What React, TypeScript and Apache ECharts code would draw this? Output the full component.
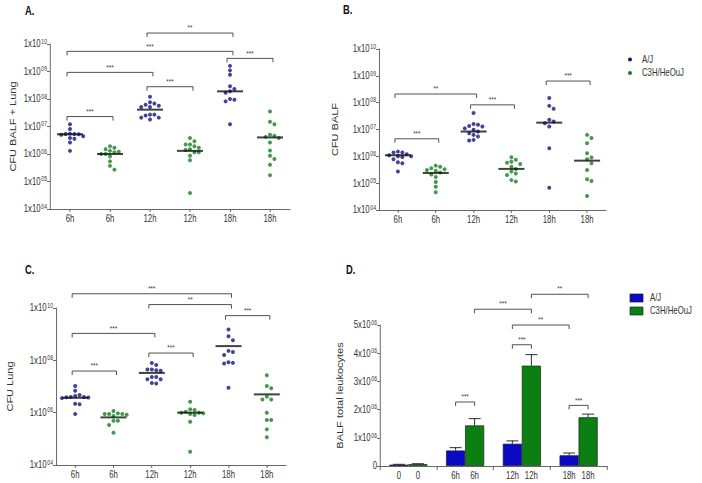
import React, { useEffect, useRef } from 'react';
import * as echarts from 'echarts';

const FONT = "'Liberation Sans', Arial, sans-serif";
const BLUE_DOT = '#141480';
const GREEN_DOT = '#17801f';
const BLUE_BAR = '#0a0ac4';
const GREEN_BAR = '#0b7f12';
const AXIS = '#555';
const TEXT = '#333';

// horizontal squeeze of the whole figure (the reference text is condensed)
const S = 0.78;
const X = (px: number) => px / S;

// ---------- shared categories ----------
const timeLabels = ['6h', '6h', '12h', '12h', '18h', '18h'];
const strainNames = ['A/J', 'C3H/HeOuJ'];

// ---------- Panel A: CFU BALF + Lung (per time: 6h, 12h, 18h) ----------
const totalAJ = [
  [1.2e7, 8.1e6, 5.5e6, 5.3e6, 5.2e6, 5.0e6, 5.3e6, 4.4e6, 3.8e6, 3.6e6, 2.6e6, 1.3e6],
  [1.2e8, 7.6e7, 6.8e7, 6.2e7, 5.7e7, 5.1e7, 5.1e7, 2.7e7, 2.5e7, 2.7e7, 2.1e7, 2.1e7, 1.8e7],
  [1.6e9, 1.1e9, 7.6e8, 2.9e8, 2.3e8, 1.9e8, 1.7e8, 1.0e8, 9.4e7, 8.2e7, 1.2e7],
];
const totalC3H = [
  [1.9e6, 1.7e6, 1.5e6, 1.3e6, 1.2e6, 1.15e6, 1.0e6, 1.0e6, 8.2e5, 5.4e5, 3.7e5, 2.7e5],
  [3.8e6, 2.9e6, 2.2e6, 2.2e6, 1.9e6, 1.7e6, 1.5e6, 1.4e6, 1.15e6, 1.15e6, 8.7e5, 5.9e5, 3.8e4],
  [3.5e7, 1.5e7, 1.2e7, 5.0e6, 4.6e6, 4.2e6, 3.8e6, 2.6e6, 1.35e6, 8.7e5, 6.6e5, 4.1e5, 1.7e5],
];
const totalMedians = [5.2e6, 1.0e6, 4.1e7, 1.3e6, 1.9e8, 4.0e6];
const totalSignif: [number, number, number, string][] = [
  [2, 4, 2.5e10, '**'],
  [0, 4, 5.4e9, '***'],
  [4, 5, 3.0e9, '***'],
  [0, 2, 9.3e8, '***'],
  [2, 3, 2.8e8, '***'],
  [0, 1, 2.3e7, '***'],
];

// ---------- Panel B: CFU BALF ----------
const balfAJ = [
  [1.5e6, 1.4e6, 1.4e6, 1.2e6, 1.1e6, 1.0e6, 1.0e6, 9.5e5, 7.8e5, 6.0e5, 5.5e5, 2.7e5],
  [4.1e7, 1.6e7, 1.5e7, 1.35e7, 1.3e7, 1.1e7, 9.8e6, 8.4e6, 7.2e6, 6.3e6, 5.5e6, 4.1e6, 3.9e6],
  [1.5e8, 7.6e7, 5.9e7, 2.3e7, 2.0e7, 1.7e7, 1.3e7, 2.0e6, 6.8e4],
];
const balfC3H = [
  [4.5e5, 4.1e5, 3.6e5, 3.3e5, 3.1e5, 2.9e5, 2.5e5, 2.1e5, 1.7e5, 1.1e5, 7.4e4, 4.6e4],
  [9.3e5, 7.4e5, 6.3e5, 5.8e5, 5.2e5, 4.1e5, 3.4e5, 2.7e5, 2.3e5, 2.0e5, 1.3e5, 1.15e5],
  [6.3e6, 4.8e6, 3.1e6, 1.3e6, 9.0e5, 7.8e5, 5.5e5, 3.1e5, 1.4e5, 1.2e5, 3.3e4],
];
const balfMedians = [1.1e6, 2.4e5, 8.4e6, 3.4e5, 1.8e7, 6.9e5];
const balfSignif: [number, number, number, string][] = [
  [0, 2, 2.1e8, '**'],
  [2, 3, 8.3e7, '***'],
  [0, 1, 4.5e6, '***'],
  [4, 5, 6.4e8, '***'],
];

// ---------- Panel C: CFU Lung ----------
const lungAJ = [
  [1.05e7, 6.9e6, 4.7e6, 4.3e6, 4.0e6, 4.0e6, 3.9e6, 3.8e6, 3.6e6, 2.2e6, 2.1e6, 8.9e5],
  [7.9e7, 6.6e7, 4.5e7, 4.2e7, 4.5e7, 4.0e7, 2.3e7, 2.3e7, 1.9e7, 1.9e7, 1.3e7, 1.35e7],
  [1.5e9, 8.3e8, 5.9e8, 2.3e8, 2.1e8, 1.6e8, 8.5e7, 8.0e7, 7.6e7, 9.0e6],
];
const lungC3H = [
  [1.15e6, 9.4e5, 8.9e5, 8.4e5, 8.9e5, 8.9e5, 7.4e5, 4.9e5, 4.9e5, 3.4e5, 1.7e5],
  [2.6e6, 1.35e6, 1.27e6, 1.08e6, 1.0e6, 1.0e6, 9.4e5, 8.9e5, 8.1e5, 4.5e5, 3.2e4],
  [2.7e7, 1.05e7, 8.5e6, 4.1e6, 3.2e6, 3.2e6, 1.0e6, 5.2e5, 5.2e5, 2.3e5, 1.15e5],
];
const lungMedians = [3.7e6, 6.6e5, 3.3e7, 1.0e6, 3.5e8, 5.0e6];
const lungSignif: [number, number, number, string][] = [
  [0, 4, 3.5e10, '***'],
  [2, 4, 1.35e10, '**'],
  [4, 5, 5.1e9, '***'],
  [0, 2, 1.07e9, '***'],
  [2, 3, 1.9e8, '***'],
  [0, 1, 3.9e7, '***'],
];

// ---------- Panel D: BALF total leukocytes ----------
const leukoTimes = ['0', '6h', '12h', '18h'];
const leukoAJ = [0.05e6, 0.55e6, 0.79e6, 0.38e6];
const leukoAJSem = [0.01e6, 0.1e6, 0.1e6, 0.08e6];
const leukoC3H = [0.07e6, 1.44e6, 3.56e6, 1.73e6];
const leukoC3HSem = [0.01e6, 0.24e6, 0.39e6, 0.11e6];
// [group, strain, group, strain, y, label]
const leukoSignif: [number, number, number, number, number, string][] = [
  [1, 0, 1, 1, 2.27e6, '***'],
  [2, 0, 2, 1, 4.3e6, '***'],
  [3, 0, 3, 1, 2.15e6, '***'],
  [2, 0, 3, 0, 5.0e6, '**'],
  [1, 1, 2, 1, 5.56e6, '***'],
  [2, 1, 3, 1, 6.09e6, '**'],
];

// ---------- helpers ----------
function swarmOffsets(values: number[], pxPerDecade: number, d = 4.4): number[] {
  const order = values.map((_, i) => i).sort((a, b) => values[b] - values[a]);
  const placed: { x: number; y: number }[] = [];
  const out = new Array(values.length).fill(0);
  for (const i of order) {
    const y = Math.log10(values[i]) * pxPerDecade;
    for (let k = 0; k < 30; k++) {
      const dx = k === 0 ? 0 : (k % 2 ? 1 : -1) * Math.ceil(k / 2) * d;
      if (placed.every((p) => Math.hypot(p.x - dx, p.y - y) >= d)) {
        out[i] = dx;
        placed.push({ x: dx, y });
        break;
      }
    }
  }
  return out;
}

function pad2(n: number) {
  return (n < 10 ? '0' : '') + n;
}

const supRich = {
  b: { fontSize: 10, fontFamily: FONT, color: TEXT, lineHeight: 12 },
  s: { fontSize: 6.5, fontFamily: FONT, color: TEXT, lineHeight: 7, verticalAlign: 'top', padding: [0, 0, 0, 1] },
};

function logLabel(v: number) {
  const e = Math.round(Math.log10(v));
  return `{b|1x10}{s|${pad2(e)}}`;
}

function swarmData(groups: number[][], cats: number[], ppd: number) {
  const out: any[] = [];
  groups.forEach((vals, gi) => {
    const offs = swarmOffsets(vals, ppd);
    vals.forEach((v, k) => out.push({ value: [cats[gi], v], symbolOffset: [X(offs[k]), 0] }));
  });
  return out;
}

function bracketSeries(idx: number, signif: [number, number, number, string][]) {
  return {
    type: 'custom',
    xAxisIndex: idx,
    yAxisIndex: idx,
    clip: false,
    silent: true,
    encode: { x: 0, y: 2 },
    data: signif.map((s) => [s[0], s[1], s[2]]),
    renderItem: (params: any, api: any) => {
      const y = api.value(2);
      const p1 = api.coord([api.value(0), y]);
      const p2 = api.coord([api.value(1), y]);
      const x1 = p1[0] - X(3);
      const x2 = p2[0] + X(3);
      const yy = p1[1];
      return {
        type: 'group',
        children: [
          {
            type: 'polyline',
            shape: { points: [[x1, yy + 4], [x1, yy], [x2, yy], [x2, yy + 4]] },
            style: { stroke: '#3a3a3a', fill: 'none', lineWidth: 1 },
          },
          {
            type: 'text',
            style: {
              text: signif[params.dataIndex][3],
              x: (x1 + x2) / 2,
              y: yy - 1,
              align: 'center',
              verticalAlign: 'bottom',
              fontSize: 8,
              fontFamily: FONT,
              fill: '#333',
            },
          },
        ],
      };
    },
  };
}

function scatterPanel(
  idx: number,
  aj: number[][],
  c3h: number[][],
  medians: number[],
  signif: [number, number, number, string][],
  ppd: number
) {
  return [
    {
      type: 'scatter',
      name: strainNames[0],
      xAxisIndex: idx,
      yAxisIndex: idx,
      symbolSize: [X(4), 4],
      itemStyle: { color: BLUE_DOT },
      data: swarmData(aj, [0, 2, 4], ppd),
      z: 2,
    },
    {
      type: 'scatter',
      name: strainNames[1],
      xAxisIndex: idx,
      yAxisIndex: idx,
      symbolSize: [X(4), 4],
      itemStyle: { color: GREEN_DOT },
      data: swarmData(c3h, [1, 3, 5], ppd),
      z: 2,
    },
    {
      type: 'scatter',
      name: 'median',
      xAxisIndex: idx,
      yAxisIndex: idx,
      symbol: 'rect',
      symbolSize: [X(26), 2],
      itemStyle: { color: '#111' },
      data: medians.map((m, i) => [i, m]),
      z: 3,
    },
    bracketSeries(idx, signif),
  ];
}

const catAxis = (idx: number) => ({
  type: 'category',
  gridIndex: idx,
  data: timeLabels,
  axisLine: { show: true, lineStyle: { color: AXIS, width: 1 } },
  axisTick: { show: true, alignWithLabel: true, length: 3, lineStyle: { color: AXIS } },
  axisLabel: { interval: 0, fontSize: 10, fontFamily: FONT, color: TEXT, margin: 5 },
  splitLine: { show: false },
});

const logAxis = (idx: number, name: string, nameGap: number, base: number) => ({
  type: 'log',
  logBase: base,
  gridIndex: idx,
  min: 1e4,
  max: 1e10,
  name,
  nameLocation: 'middle',
  nameGap,
  nameMoveOverlap: false,
  nameTextStyle: { fontSize: 11, fontFamily: FONT, color: TEXT },
  axisLine: { show: true, lineStyle: { color: AXIS, width: 1 } },
  axisTick: { show: true, length: X(3), lineStyle: { color: AXIS } },
  axisLabel: { formatter: logLabel, rich: supRich, margin: X(3) },
  splitLine: { show: false },
  minorTick: { show: false },
});

export default function App() {
  const ref = useRef<HTMLDivElement>(null);
  useEffect(() => {
    if (!ref.current) return;
    document.body.style.margin = '0';
    document.body.style.overflow = 'hidden';
    const chart = echarts.init(ref.current, undefined, { renderer: 'svg' });
    const BAR_HALF = X(9.5);

    const option: any = {
      animation: false,
      backgroundColor: '#fff',
      textStyle: { fontFamily: FONT },
      grid: [
        { left: X(50), top: 44, width: X(240), height: 165 },
        { left: X(379), top: 49, width: X(227), height: 161 },
        { left: X(56), top: 308, width: X(230), height: 157 },
        { left: X(380), top: 325, width: X(227), height: 141 },
      ],
      xAxis: [
        catAxis(0),
        catAxis(1),
        catAxis(2),
        {
          type: 'category',
          gridIndex: 3,
          data: leukoTimes,
          axisLine: { show: true, lineStyle: { color: AXIS, width: 1 } },
          axisTick: { show: true, length: 4, lineStyle: { color: AXIS } },
          axisLabel: {
            interval: 0,
            margin: 5,
            formatter: (v: string) => `{c|${v}}{c|${v}}`,
            rich: { c: { width: X(19), align: 'center', fontSize: 10, fontFamily: FONT, color: TEXT } },
          },
        },
      ],
      yAxis: [
        logAxis(0, 'CFU BALF + Lung', X(37) - 6, 10),
        logAxis(1, 'CFU BALF', X(44) - 6, 10),
        logAxis(2, 'CFU Lung', X(46) - 6, 100),
        {
          type: 'value',
          gridIndex: 3,
          min: 0,
          max: 5e6,
          interval: 1e6,
          name: 'BALF total leukocytes',
          nameLocation: 'middle',
          nameGap: X(40) - 6,
          nameMoveOverlap: false,
          nameTextStyle: { fontSize: 11, fontFamily: FONT, color: TEXT },
          axisLine: { show: true, lineStyle: { color: AXIS, width: 1 } },
          axisTick: { show: true, length: X(3), lineStyle: { color: AXIS } },
          splitLine: { show: false },
          axisLabel: {
            margin: X(3),
            formatter: (v: number) => (v === 0 ? '{b|0}' : `{b|${Math.round(v / 1e6)}x10}{s|06}`),
            rich: supRich,
          },
        },
      ],
      series: [
        ...scatterPanel(0, totalAJ, totalC3H, totalMedians, totalSignif, 27.5),
        ...scatterPanel(1, balfAJ, balfC3H, balfMedians, balfSignif, 26.8),
        ...scatterPanel(2, lungAJ, lungC3H, lungMedians, lungSignif, 26.2),
        {
          type: 'bar',
          name: strainNames[0],
          xAxisIndex: 3,
          yAxisIndex: 3,
          barWidth: X(19),
          barGap: '0%',
          itemStyle: { color: BLUE_BAR, borderColor: '#1a1a3a', borderWidth: 0.8 },
          data: leukoAJ,
        },
        {
          type: 'bar',
          name: strainNames[1],
          xAxisIndex: 3,
          yAxisIndex: 3,
          barWidth: X(19),
          barGap: '0%',
          itemStyle: { color: GREEN_BAR, borderColor: '#1a2a1a', borderWidth: 0.8 },
          data: leukoC3H,
        },
        {
          type: 'custom',
          xAxisIndex: 3,
          yAxisIndex: 3,
          clip: false,
          silent: true,
          z: 4,
          encode: { x: 0, y: 3 },
          data: [
            ...leukoAJ.map((m, i) => [i, 0, m, m + leukoAJSem[i]]),
            ...leukoC3H.map((m, i) => [i, 1, m, m + leukoC3HSem[i]]),
          ],
          renderItem: (params: any, api: any) => {
            const g = api.value(0);
            const off = api.value(1) ? BAR_HALF : -BAR_HALF;
            const top = api.coord([g, api.value(3)]);
            const base = api.coord([g, api.value(2)]);
            const x = top[0] + off;
            const st = { stroke: '#111', lineWidth: 1 };
            return {
              type: 'group',
              children: [
                { type: 'line', shape: { x1: x, y1: base[1], x2: x, y2: top[1] }, style: st },
                { type: 'line', shape: { x1: x - X(6), y1: top[1], x2: x + X(6), y2: top[1] }, style: st },
              ],
            };
          },
        },
        {
          type: 'custom',
          xAxisIndex: 3,
          yAxisIndex: 3,
          clip: false,
          silent: true,
          encode: { x: 0, y: 4 },
          data: leukoSignif.map((s) => [s[0], s[1], s[2], s[3], s[4]]),
          renderItem: (params: any, api: any) => {
            const y = api.value(4);
            const p1 = api.coord([api.value(0), y]);
            const p2 = api.coord([api.value(2), y]);
            const x1 = p1[0] + (api.value(1) ? BAR_HALF : -BAR_HALF);
            const x2 = p2[0] + (api.value(3) ? BAR_HALF : -BAR_HALF);
            const yy = p1[1];
            return {
              type: 'group',
              children: [
                {
                  type: 'polyline',
                  shape: { points: [[x1, yy + 4], [x1, yy], [x2, yy], [x2, yy + 4]] },
                  style: { stroke: '#3a3a3a', fill: 'none', lineWidth: 1 },
                },
                {
                  type: 'text',
                  style: {
                    text: leukoSignif[params.dataIndex][5],
                    x: (x1 + x2) / 2,
                    y: yy - 1,
                    align: 'center',
                    verticalAlign: 'bottom',
                    fontSize: 8,
                    fontFamily: FONT,
                    fill: '#333',
                  },
                },
              ],
            };
          },
        },
      ],
      graphic: [
        { type: 'text', x: X(25), y: 5, style: { text: 'A.', fontSize: 12, fontWeight: 'bold', fontFamily: FONT, fill: '#111' } },
        { type: 'text', x: X(343), y: 4, style: { text: 'B.', fontSize: 12, fontWeight: 'bold', fontFamily: FONT, fill: '#111' } },
        { type: 'text', x: X(25), y: 264, style: { text: 'C.', fontSize: 12, fontWeight: 'bold', fontFamily: FONT, fill: '#111' } },
        { type: 'text', x: X(346), y: 264, style: { text: 'D.', fontSize: 12, fontWeight: 'bold', fontFamily: FONT, fill: '#111' } },
        { type: 'ellipse', shape: { cx: X(630), cy: 59.5, rx: X(2), ry: 2 }, style: { fill: BLUE_DOT } },
        { type: 'text', x: X(642), y: 59.5, style: { text: strainNames[0], verticalAlign: 'middle', fontSize: 10, fontFamily: FONT, fill: TEXT } },
        { type: 'ellipse', shape: { cx: X(630), cy: 73, rx: X(2), ry: 2 }, style: { fill: GREEN_DOT } },
        { type: 'text', x: X(642), y: 73, style: { text: strainNames[1], verticalAlign: 'middle', fontSize: 10, fontFamily: FONT, fill: TEXT } },
        { type: 'rect', shape: { x: X(630), y: 294, width: X(13), height: 8 }, style: { fill: BLUE_BAR, stroke: '#1a1a3a', lineWidth: 0.8 } },
        { type: 'text', x: X(650), y: 298, style: { text: strainNames[0], verticalAlign: 'middle', fontSize: 10, fontFamily: FONT, fill: TEXT } },
        { type: 'rect', shape: { x: X(630), y: 307, width: X(13), height: 8 }, style: { fill: GREEN_BAR, stroke: '#1a2a1a', lineWidth: 0.8 } },
        { type: 'text', x: X(650), y: 311, style: { text: strainNames[1], verticalAlign: 'middle', fontSize: 10, fontFamily: FONT, fill: TEXT } },
      ],
    };
    chart.setOption(option);
    return () => chart.dispose();
  }, []);
  return (
    <div style={{ position: 'absolute', left: 0, top: 0, width: 702, height: 483, overflow: 'hidden', background: '#fff' }}>
      <div
        ref={ref}
        style={{ width: X(702), height: 483, transform: `scaleX(${S})`, transformOrigin: '0 0' }}
      />
    </div>
  );
}
